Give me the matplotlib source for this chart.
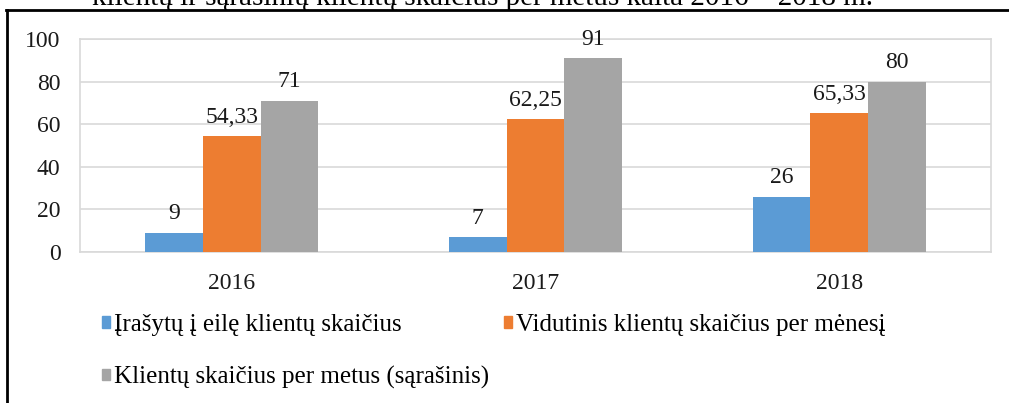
import numpy as np
import matplotlib.pyplot as plt
from matplotlib.lines import Line2D
from matplotlib.patches import Patch

years = ['2016', '2017', '2018']
irasytu = [9, 7, 26]
vidutinis = [54.33, 62.25, 65.33]
per_metus = [71, 91, 80]

series_names = ['Įrašytų į eilę klientų skaičius',
                'Vidutinis klientų skaičius per mėnesį',
                'Klientų skaičius per metus (sąrašinis)']
colors = ['#5B9BD5', '#ED7D31', '#A5A5A5']

plt.rcParams['font.family'] = ['Liberation Serif', 'DejaVu Serif']
fs = 17

fig = plt.figure(figsize=(10.09, 4.03), dpi=100)
W, H = 1009, 403
ax = fig.add_axes([80 / W, 1 - 252 / H, (991 - 80) / W, (252 - 39) / H])

x = np.arange(len(years))
w = 0.19
data = [irasytu, vidutinis, per_metus]
for i, vals in enumerate(data):
    bars = ax.bar(x + (i - 1) * w, vals, w, color=colors[i], zorder=3)
    labels = [f'{v:.2f}'.replace('.', ',') if v != int(v) else str(int(v)) for v in vals]
    ax.bar_label(bars, labels=labels, padding=6, fontsize=fs, color='#1a1a1a')

ax.set_xlim(-0.5, 2.5)
ax.set_ylim(0, 100)
ax.set_yticks(range(0, 101, 20))
ax.set_xticks(x)
ax.set_xticklabels(years)
ax.tick_params(axis='both', length=0, labelsize=fs, colors='#1a1a1a')
ax.tick_params(axis='y', pad=14)
ax.tick_params(axis='x', pad=15)
ax.grid(axis='y', color='#d9d9d9', linewidth=1.2, zorder=0)
for s in ax.spines.values():
    s.set_color('#d9d9d9')
    s.set_linewidth(1.2)

handles = [Patch(color=colors[0]), Patch(color=colors[2]), Patch(color=colors[1])]
names = [series_names[0], series_names[2], series_names[1]]
fig.legend(handles, names, ncol=2, loc='upper left',
           bbox_to_anchor=(102 / W, 1 - 314 / H), frameon=False, fontsize=18,
           handlelength=0.33, handleheight=0.33, handletextpad=0.15,
           labelspacing=1.2, columnspacing=0.6, borderaxespad=0, borderpad=0)

# kadro linijos
fig.add_artist(Line2D([6 / W, 1], [1 - 10 / H, 1 - 10 / H], color='black', linewidth=2))
fig.add_artist(Line2D([7 / W, 7 / W], [0, 1 - 10 / H], color='black', linewidth=2))

# nukirpta antraštė viršuje
fig.text(873 / W, 1 - 5 / H, 'klientų ir sąrašinių klientų skaičius per metus kaita 2016 – 2018 m.',
         ha='right', va='baseline', fontsize=21)

fig.savefig('out.png', dpi=100)
